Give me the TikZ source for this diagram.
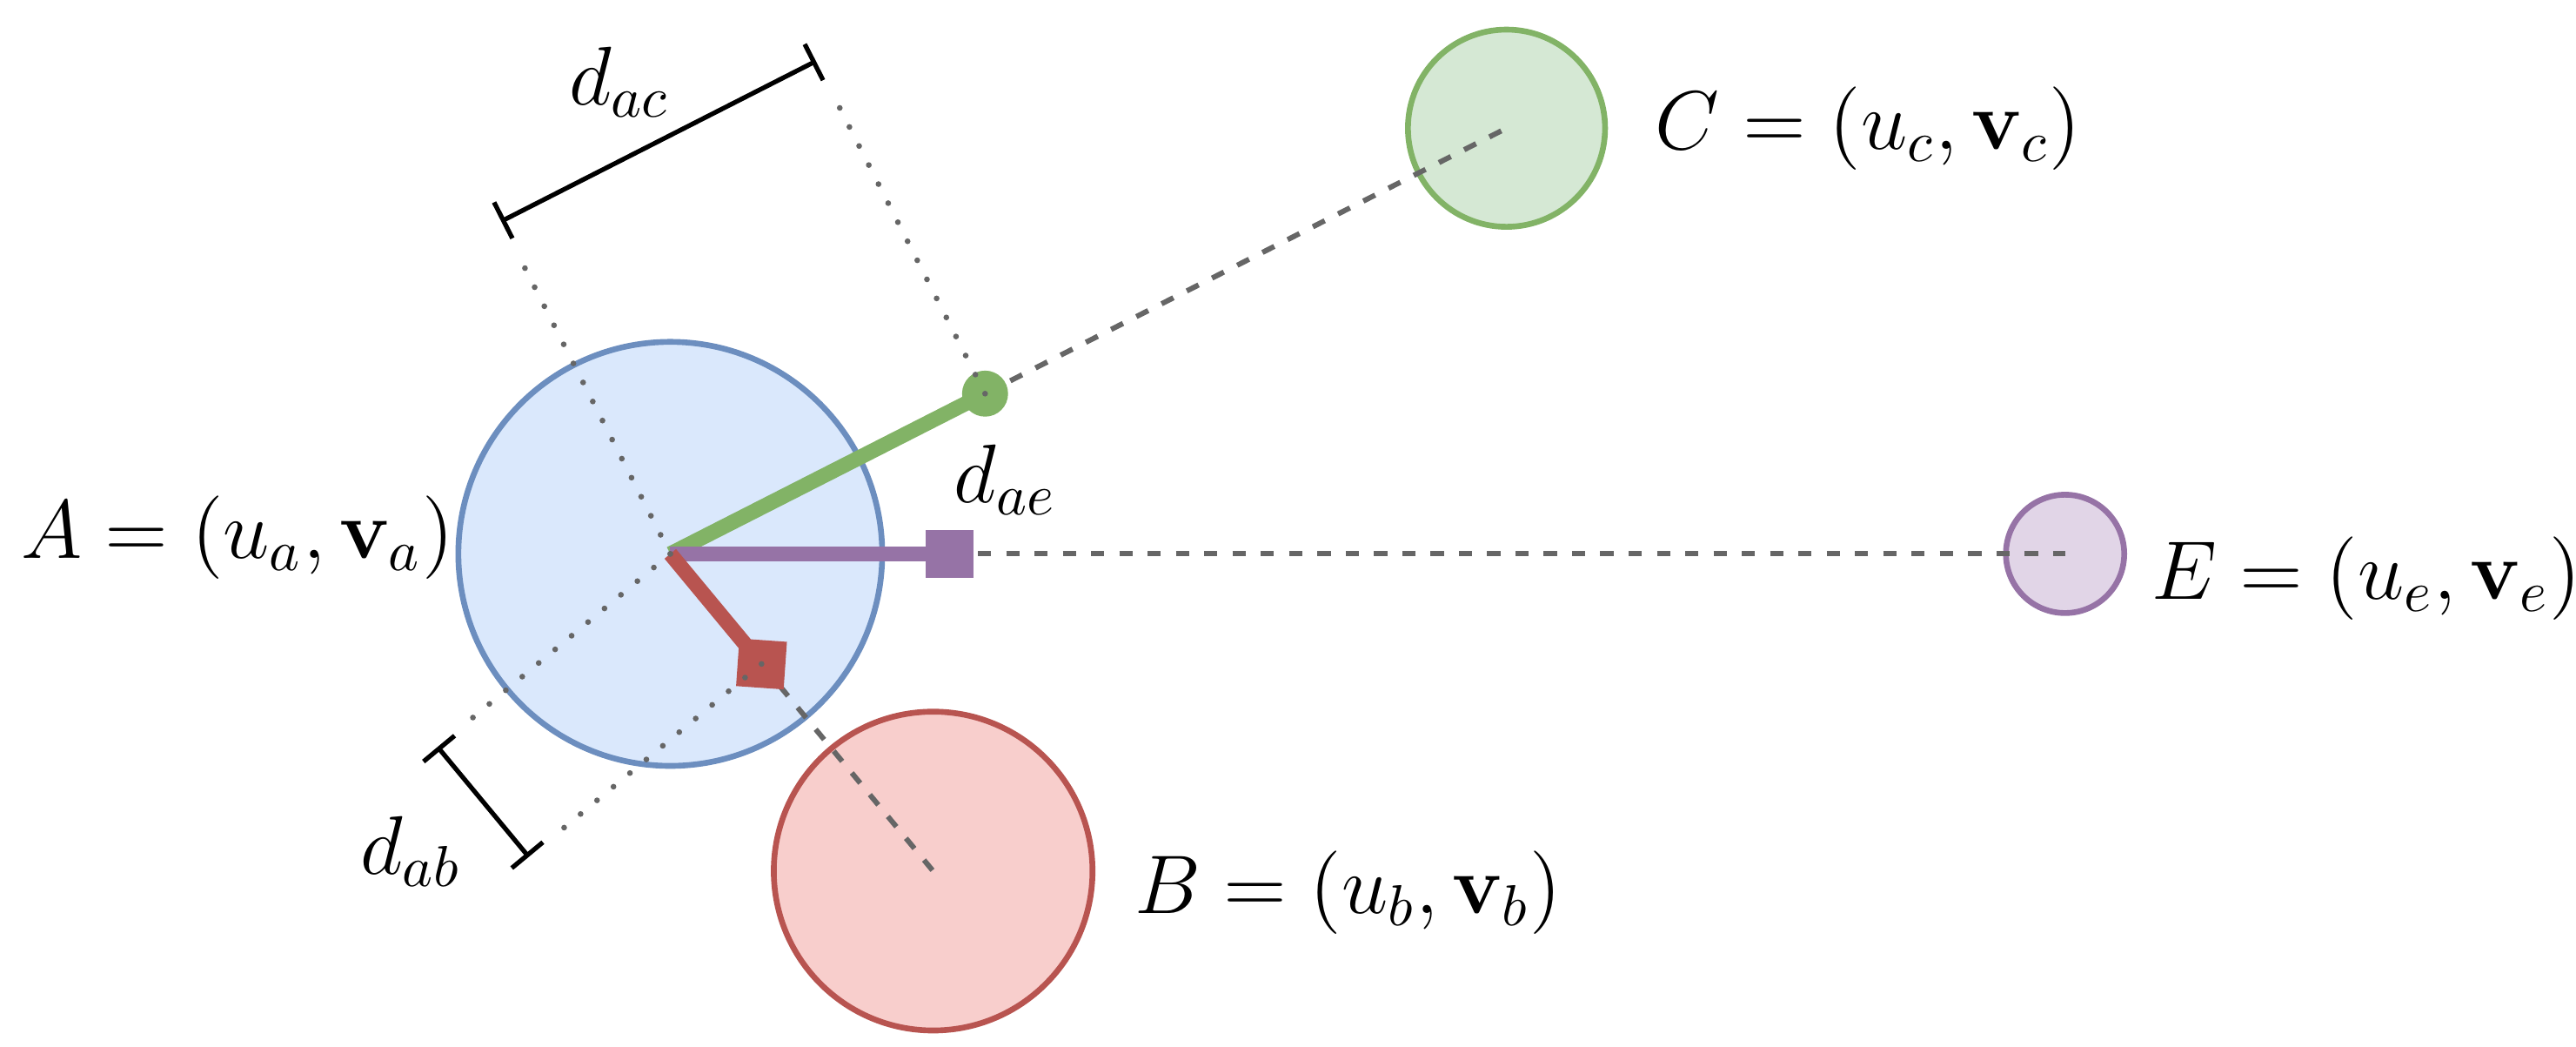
\documentclass[tikz,border=0pt]{standalone}
\usepackage{tikz}
\usetikzlibrary{calc}
\usetikzlibrary{arrows.meta}

\definecolor{blueline}{HTML}{6C8EBF}
\definecolor{bluefill}{HTML}{DAE8FC}
\definecolor{redline}{HTML}{B85450}
\definecolor{redfill}{HTML}{F8CECC}
\definecolor{greenline}{HTML}{82B366}
\definecolor{greenfill}{HTML}{D5E8D4}
\definecolor{purpleline}{HTML}{9673A6}
\definecolor{purplefill}{HTML}{E1D5E7}
\definecolor{greyline}{HTML}{666666}

\begin{document}
\begin{tikzpicture}[x=0.1mm, y=-0.1mm,
   agent/.style={circle, draw, line width=1pt, inner sep=0pt},
   link/.style={line width=2.6pt},
   mark sq/.style={fill, minimum size=2.9mm, inner sep=0pt},
   guide/.style={greyline, line width=0.9pt, dash pattern=on 2.3pt off 2.6pt},
   proj/.style={greyline, line width=1pt, line cap=round, dash pattern=on 0pt off 3.7pt},
   bracket/.style={line width=0.8pt, {Bar[width=7pt]}-{Bar[width=7pt]}},
   lbl/.style={font=\fontsize{14.6}{18}\selectfont}]
   \useasboundingbox (0,0) rectangle (1568,637);

   % agents
   \node[agent, draw=blueline, fill=bluefill, minimum size=25.8mm] (A) at (408,337) {};
   \node[agent, draw=redline, fill=redfill, minimum size=19.4mm] (B) at (568,530) {};
   \node[agent, draw=greenline, fill=greenfill, minimum size=12mm] (C) at (917,78) {};
   \node[agent, draw=purpleline, fill=purplefill, minimum size=7.2mm] (E) at (1257,337) {};

   % points on the lines from A
   \coordinate (G) at ($(A.center)!21.5mm!(C.center)$);
   \coordinate (P) at ($(A.center)!17mm!(E.center)$);
   \coordinate (R) at ($(A.center)!8.7mm!(B.center)$);

   % ends of the distance bars
   \coordinate (ac1) at ($(A.center)!22.7mm!90:(C.center)$);
   \coordinate (ac2) at ($(G)!22.7mm!90:(C.center)$);
   \coordinate (ab1) at ($(A.center)!18.4mm!-90:(B.center)$);
   \coordinate (ab2) at ($(R)!18.4mm!-90:(B.center)$);

   \draw[guide] (G) -- (C.center);
   \draw[guide] (P) -- (E.center);
   \draw[guide] (R) -- (B.center);

   \draw[link, greenline] (A.center) -- (G);
   \draw[link, purpleline] (A.center) -- (P);
   \draw[link, redline] (A.center) -- (R);

   \node[circle, fill=greenline, minimum size=2.8mm, inner sep=0pt] (gdot) at (G) {};
   \node[mark sq, purpleline] (psq) at (P) {};
   \node[mark sq, redline, rotate=-4] (rsq) at (R) {};

   % projections
   \draw[proj] (A.center) -- ($(A.center)!0.9!(ac1)$);
   \draw[proj] (G) -- ($(G)!0.9!(ac2)$);
   \draw[proj] (A.center) -- ($(A.center)!0.89!(ab1)$);
   \draw[proj] (R) -- ($(R)!0.89!(ab2)$);

   \draw[bracket] (ac1) -- (ac2);
   \draw[bracket] (ab1) -- (ab2);

   \node[lbl] (dac) at (377,50) {$d_{ac}$};
   \node[lbl] (dab) at (250,518) {$d_{ab}$};
   \node[lbl] (dae) at (612,292) {$d_{ae}$};

   \node[lbl, anchor=east, inner sep=0pt] (labA) at (277,327) {$A = (u_a, \mathbf{v}_a)$};
   \node[lbl, anchor=west, inner sep=0pt] (labB) at (690,543) {$B = (u_b, \mathbf{v}_b)$};
   \node[lbl, anchor=west, inner sep=0pt] (labC) at (1007,78) {$C = (u_c, \mathbf{v}_c)$};
   \node[lbl, anchor=west, inner sep=0pt] (labE) at (1309,352) {$E = (u_e, \mathbf{v}_e)$};

  \end{tikzpicture}
\end{document}
